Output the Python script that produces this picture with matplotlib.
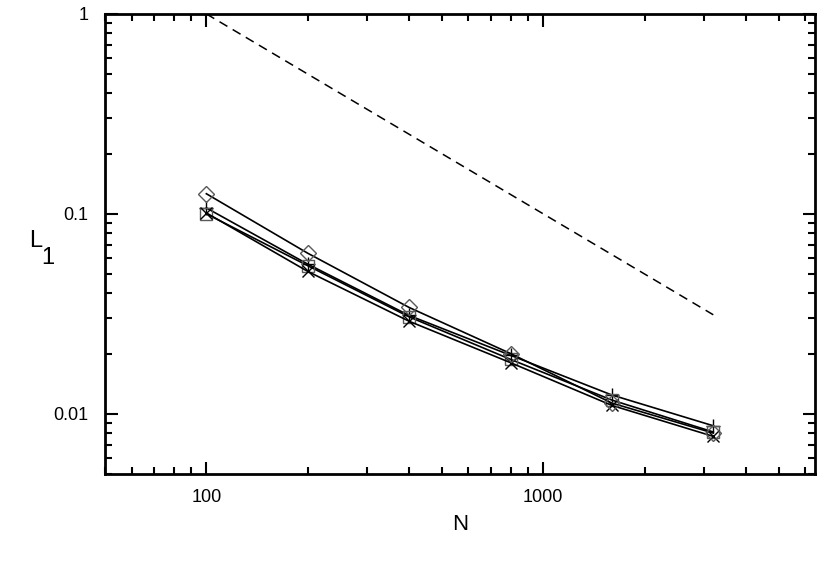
import matplotlib
matplotlib.use("Agg")
import matplotlib.pyplot as plt
from matplotlib.ticker import LogLocator, FixedLocator, FixedFormatter, NullFormatter

plt.rcParams['font.family'] = ['Liberation Sans', 'DejaVu Sans']

# данные
N = [100, 200, 400, 800, 1600, 3200]
err_plus = [0.107, 0.056, 0.031, 0.0196, 0.0124, 0.0087]
err_square = [0.100, 0.055, 0.0305, 0.0187, 0.0117, 0.0081]
err_cross = [0.101, 0.0515, 0.0290, 0.0180, 0.0110, 0.0077]
err_diamond = [0.126, 0.0635, 0.0340, 0.0200, 0.0113, 0.0080]
ref_N = [100, 3200]
ref_L = [1.0, 1.0 / 32]

fig = plt.figure(figsize=(8.3, 5.8), dpi=100)
ax = fig.add_axes([0.1265, 0.183, 0.855, 0.793])

series = [
    (err_plus, '+', 9.5),
    (err_square, 's', 9),
    (err_cross, 'x', 9),
    (err_diamond, 'D', 8.5),
]
for vals, m, size in series:
    ax.plot(N, vals, color='black', lw=1.2, marker=m, ms=size,
            mfc='none', mec='black' if m in '+x' else '0.35', mew=1.0)

# опорная линия ~ 1/N
ax.plot(ref_N, ref_L, color='black', lw=1.1, ls=(0, (6, 4)))

ax.set_xscale('log')
ax.set_yscale('log')
ax.set_xlim(50, 6400)
ax.set_ylim(0.005, 1)

ax.xaxis.set_major_locator(FixedLocator([100, 1000]))
ax.xaxis.set_major_formatter(FixedFormatter(['100', '1000']))
ax.xaxis.set_minor_locator(LogLocator(base=10, subs=range(2, 10), numticks=20))
ax.xaxis.set_minor_formatter(NullFormatter())
ax.yaxis.set_major_locator(FixedLocator([0.01, 0.1, 1]))
ax.yaxis.set_major_formatter(FixedFormatter(['0.01', '0.1', '1']))
ax.yaxis.set_minor_locator(LogLocator(base=10, subs=range(2, 10), numticks=20))
ax.yaxis.set_minor_formatter(NullFormatter())

ax.tick_params(which='both', direction='in', top=True, right=True, width=1.5,
               labelsize=13)
ax.tick_params(axis='x', pad=11)
ax.tick_params(axis='y', pad=12)
ax.tick_params(which='major', length=9)
ax.tick_params(which='minor', length=5)
for s in ax.spines.values():
    s.set_linewidth(2)

ax.set_xlabel('N', fontsize=16, labelpad=6)
# подпись L с крупным нижним индексом
fig.text(0.035, 0.585, 'L', fontsize=17, ha='left', va='center')
fig.text(0.050, 0.555, '1', fontsize=17, ha='left', va='center')

fig.savefig('out.png', dpi=100)
